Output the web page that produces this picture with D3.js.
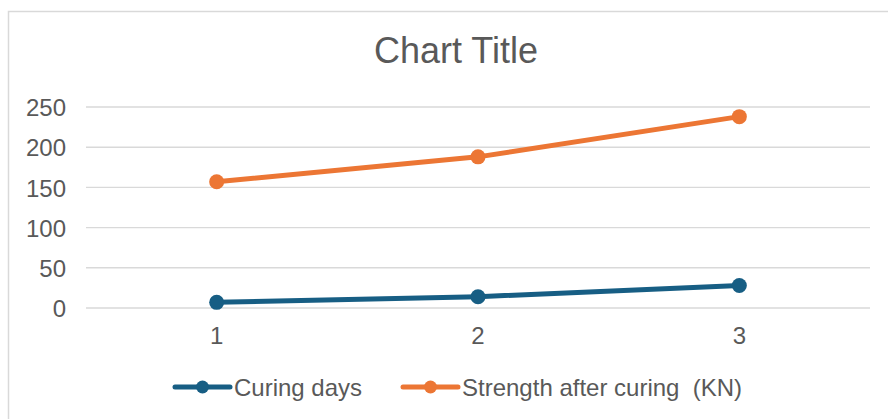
<!DOCTYPE html>
<html>
<head>
<meta charset="utf-8">
<script src="https://cdn.jsdelivr.net/npm/d3@7"></script>
<style>
  html, body { margin: 0; padding: 0; background: #ffffff; }
  svg { display: block; font-family: Arial, "Liberation Sans", sans-serif; }
</style>
</head>
<body>
<svg id="chart" width="888" height="419"></svg>
<script>
// Curing test results
const categories = ["1", "2", "3"];
const curingDays = [7, 14, 28];
const strength = [157, 188, 238];
const yTicks = [0, 50, 100, 150, 200, 250];
const seriesNames = ["Curing days", "Strength after curing  (KN)"];
const seriesColors = ["#175e84", "#ec7634"];
const series = [curingDays, strength];

const svg = d3.select("#chart");
const textColor = "#595959";
const gridColor = "#d9d9d9";

// chart area frame
svg.append("rect")
  .attr("x", 8.5).attr("y", 11.5)
  .attr("width", 900).attr("height", 420)
  .attr("fill", "#fff")
  .attr("stroke", gridColor).attr("stroke-width", 1.5);

const plot = { left: 86, right: 870, top: 107, bottom: 308 };

const x = d3.scaleBand().domain(categories).range([plot.left, plot.right]);
const y = d3.scaleLinear().domain([0, 250]).range([plot.bottom, plot.top]);

// title
svg.append("text")
  .attr("x", 456).attr("y", 63)
  .attr("text-anchor", "middle")
  .attr("font-size", 36)
  .attr("fill", textColor)
  .text("Chart Title");

// horizontal gridlines
svg.append("g").selectAll("line").data(yTicks).join("line")
  .attr("x1", plot.left).attr("x2", plot.right)
  .attr("y1", d => y(d)).attr("y2", d => y(d))
  .attr("stroke", gridColor).attr("stroke-width", 1.4);

// y axis labels
const yAxis = d3.axisLeft(y).tickValues(yTicks).tickSize(0).tickPadding(0);
const yg = svg.append("g").attr("transform", `translate(66,0)`).call(yAxis);
yg.select(".domain").remove();
yg.selectAll("text")
  .attr("font-size", 24).attr("fill", textColor)
  .attr("font-family", "Arial, 'Liberation Sans', sans-serif")
  .attr("dy", "0.36em");

// x axis labels
const xAxis = d3.axisBottom(x).tickSize(0).tickPadding(0);
const xg = svg.append("g").attr("transform", `translate(0,${plot.bottom})`).call(xAxis);
xg.select(".domain").remove();
xg.selectAll("text")
  .attr("font-size", 24).attr("fill", textColor)
  .attr("font-family", "Arial, 'Liberation Sans', sans-serif")
  .attr("dy", 0).attr("y", 36);

// series lines and markers
const line = d3.line()
  .x((d, i) => x(categories[i]) + x.bandwidth() / 2)
  .y(d => y(d));

series.forEach((vals, s) => {
  svg.append("path")
    .datum(vals)
    .attr("d", line)
    .attr("fill", "none")
    .attr("stroke", seriesColors[s])
    .attr("stroke-width", 5)
    .attr("stroke-linejoin", "round");
  svg.append("g").selectAll("circle").data(vals).join("circle")
    .attr("cx", (d, i) => x(categories[i]) + x.bandwidth() / 2)
    .attr("cy", d => y(d))
    .attr("r", 7.5)
    .attr("fill", seriesColors[s]);
});

// legend
const legendY = 387;
const legendItems = [
  { x: 175, textX: 234 },
  { x: 403, textX: 462 }
];
legendItems.forEach((it, s) => {
  const g = svg.append("g");
  g.append("line")
    .attr("x1", it.x).attr("x2", it.x + 55)
    .attr("y1", legendY).attr("y2", legendY)
    .attr("stroke", seriesColors[s]).attr("stroke-width", 5)
    .attr("stroke-linecap", "round");
  g.append("circle")
    .attr("cx", it.x + 27.5).attr("cy", legendY).attr("r", 6.5)
    .attr("fill", seriesColors[s]);
  g.append("text")
    .attr("x", it.textX).attr("y", legendY + 8.5)
    .attr("font-size", 24).attr("fill", textColor)
    .attr("xml:space", "preserve")
    .style("white-space", "pre")
    .text(seriesNames[s]);
});
</script>
</body>
</html>
